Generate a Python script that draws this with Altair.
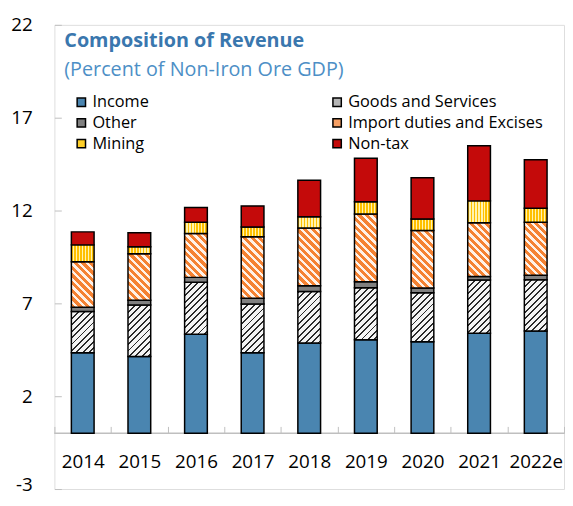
import math
import altair as alt
import pandas as pd

# ---------------- data ----------------
years = ["2014", "2015", "2016", "2017", "2018", "2019", "2020", "2021", "2022e"]
series_names = ["Income", "Goods and Services", "Other",
                "Import duties and Excises", "Mining", "Non-tax"]
income = [4.34, 4.14, 5.34, 4.34, 4.86, 5.04, 4.93, 5.39, 5.51]
goods = [2.22, 2.77, 2.80, 2.62, 2.78, 2.80, 2.64, 2.87, 2.76]
other = [0.23, 0.26, 0.26, 0.31, 0.31, 0.33, 0.26, 0.19, 0.25]
imports = [2.45, 2.50, 2.36, 3.32, 3.11, 3.64, 3.10, 2.89, 2.85]
mining = [0.91, 0.38, 0.61, 0.52, 0.61, 0.66, 0.61, 1.18, 0.75]
nontax = [0.70, 0.75, 0.79, 1.14, 1.96, 2.34, 2.22, 2.97, 2.61]
y_ticks = [-3, 2, 7, 12, 17, 22]

series_values = [income, goods, other, imports, mining, nontax]
rows = []
for si, (name, vals) in enumerate(zip(series_names, series_values)):
    for yr, v in zip(years, vals):
        rows.append({"year": yr, "series": name, "value": v, "order": si})
df = pd.DataFrame(rows)

# ---------------- style ----------------
W, H = 516, 470
PX = H / 25.0          # pixels per unit on the y scale
BAR = 23
FONT = "Open Sans"
legend_colors = ["#4a85b0", "#b5b5b5", "#808080", "#f7a064", "#ffd02a", "#c40a0a"]


def stripe_stops(c1, c2, frac, periods):
    stops = []
    i = 0
    while i / periods < 1:
        a = i / periods
        b = min((i + frac) / periods, 1.0)
        c = min((i + 1) / periods, 1.0)
        stops += [{"offset": round(a, 4), "color": c1},
                  {"offset": round(b, 4), "color": c1},
                  {"offset": round(b, 4), "color": c2},
                  {"offset": round(c, 4), "color": c2}]
        i += 1
    return stops


def diagonal(h, c1, c2, frac, period, back):
    w = BAR
    r = h / w
    k = (1 + r) / (1 + r * r)
    periods = (w + h) / math.sqrt(2) / period
    if back:   # "\" stripes
        x1, y1, x2, y2 = 0, 1, k, 1 - k * r
    else:      # "/" stripes
        x1, y1, x2, y2 = 0, 0, k, k * r
    return {"gradient": "linear", "x1": x1, "y1": y1, "x2": x2, "y2": y2,
            "stops": stripe_stops(c1, c2, frac, periods)}


def vertical(c1, c2, frac, period):
    return {"gradient": "linear", "x1": 0, "y1": 0, "x2": 1, "y2": 0,
            "stops": stripe_stops(c1, c2, frac, BAR / period)}


conditions = []
for yr, g, im, mi in zip(years, goods, imports, mining):
    conditions.append({"test": f"datum.series === 'Goods and Services' && datum.year === '{yr}'",
                       "value": diagonal(g * PX, "#2a2a2a", "#f4f4f4", 0.3, 4.6, False)})
    conditions.append({"test": f"datum.series === 'Import duties and Excises' && datum.year === '{yr}'",
                       "value": diagonal(im * PX, "#f58232", "#fff2e8", 0.55, 5.5, True)})
    conditions.append({"test": f"datum.series === 'Mining' && datum.year === '{yr}'",
                       "value": vertical("#ffc000", "#fff3b0", 0.55, 3.0)})

y_scale = alt.Scale(domain=[-3, 22], nice=False, zero=False)
y_axis = alt.Axis(values=y_ticks, offset=-7, tickSize=7, tickColor="#bfbfbf",
                  tickWidth=1, domain=False, grid=False, labelFontSize=19,
                  labelColor="black", labelPadding=22.5, labelFont=FONT,
                  labelExpr="'' + datum.value",
                  labelOffset={"condition": {"test": "datum.value === -3", "value": -4},
                               "value": 0})

bars = alt.Chart(df).mark_bar(size=BAR, stroke="black", strokeWidth=1.5).encode(
    x=alt.X("year:N", sort=years, title=None,
            scale=alt.Scale(paddingInner=0, paddingOuter=0),
            axis=alt.Axis(orient="bottom", offset=-(H - 22 * PX + 7), tickBand="extent",
                          tickSize=7, tickColor="#bfbfbf", tickWidth=1, domain=False,
                          labelFontSize=19, labelColor="black", labelBaseline="middle",
                          labelPadding=29, labelAngle=0, labelFont=FONT)),
    y=alt.Y("value:Q", stack="zero", title=None, scale=y_scale, axis=y_axis),
    fill=alt.Fill("series:N",
                  scale=alt.Scale(domain=series_names, range=legend_colors),
                  legend=alt.Legend(title=None, orient="none", legendX=19, legendY=70,
                                    direction="horizontal", columns=2,
                                    columnPadding=182, rowPadding=4,
                                    symbolType="square", symbolSize=72,
                                    symbolStrokeColor="black", symbolStrokeWidth=1.5,
                                    labelFontSize=16.5, labelOffset=3, labelFont=FONT,
                                    labelColor="black", labelLimit=400, padding=0),
                  condition=conditions),
    order=alt.Order("order:Q", sort="ascending"),
)

zero_line = alt.Chart(pd.DataFrame({"z": [0]})).mark_rule(
    color="#bfbfbf", strokeWidth=1.5).encode(
    y=alt.Y("z:Q", title=None, scale=y_scale, axis=y_axis))

chart = alt.layer(zero_line, bars).properties(
    width=W, height=H,
    title=alt.TitleParams(text="Composition of Revenue",
                          subtitle="(Percent of Non-Iron Ore GDP)",
                          anchor="start", frame="group", orient="top", offset=0,
                          dx=10, dy=65, font=FONT, fontSize=20, fontWeight="bold",
                          color="#3a77ae", subtitleFont=FONT, subtitleFontSize=20,
                          subtitleColor="#4d8fc6", subtitlePadding=10),
    autosize=alt.AutoSizeParams(type="none"),
    padding={"left": 47, "top": 14, "right": 1, "bottom": 5.5},
).configure_view(stroke="#d4d4d4", strokeWidth=1).configure(font=FONT)

chart.save("out.html", embed_options={"renderer": "svg", "actions": False})
